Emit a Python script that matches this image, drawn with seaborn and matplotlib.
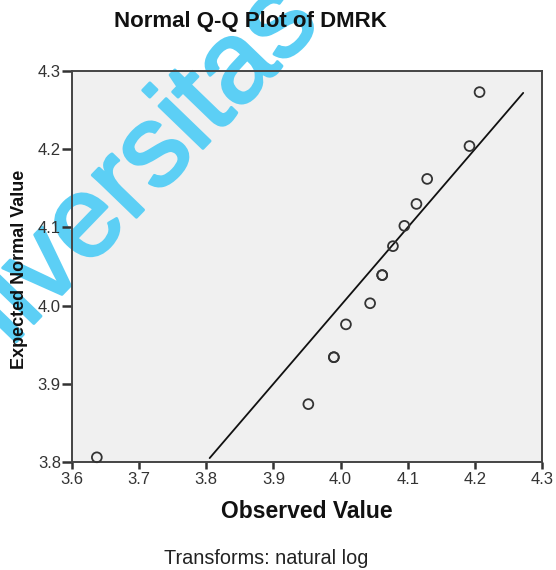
import matplotlib
matplotlib.use("Agg")
import matplotlib.pyplot as plt
import matplotlib.patheffects as pe
import pandas as pd
import seaborn as sns

# Observed (natural log) values and their expected normal quantiles
observed = [3.637, 3.952, 3.990, 3.990, 4.008, 4.044, 4.062, 4.062,
            4.078, 4.095, 4.113, 4.129, 4.192, 4.207]
expected = [3.806, 3.874, 3.934, 3.934, 3.976, 4.003, 4.039, 4.039,
            4.076, 4.102, 4.130, 4.162, 4.204, 4.273]

# Reference line y = x spanning the expected range
ref_line = [3.805, 4.272]

x_ticks = [3.6, 3.7, 3.8, 3.9, 4.0, 4.1, 4.2, 4.3]
y_ticks = [3.8, 3.9, 4.0, 4.1, 4.2, 4.3]

sns.set_theme(style="white")
plt.rcParams["font.family"] = ["Liberation Sans", "DejaVu Sans"]

df = pd.DataFrame({"Observed": observed, "Expected": expected})
line_df = pd.DataFrame({"x": ref_line, "y": ref_line})

W, H = 556, 570
fig = plt.figure(figsize=(W / 100, H / 100), dpi=100)
ax = fig.add_axes([72 / W, 1 - 462 / H, 470 / W, 391 / H])
ax.set_facecolor("#f0f0f0")

sns.lineplot(data=line_df, x="x", y="y", ax=ax, color="#111111",
             linewidth=1.3, zorder=2)
sns.scatterplot(data=df, x="Observed", y="Expected", ax=ax, marker="o",
                s=50, facecolor="none", edgecolor="#333333",
                linewidth=1.3, zorder=3, clip_on=False)

ax.set_xlim(3.6, 4.3)
ax.set_ylim(3.8, 4.3)
ax.set_xticks(x_ticks)
ax.set_yticks(y_ticks)
ax.set_xticklabels([f"{v:.1f}" for v in x_ticks])
ax.set_yticklabels([f"{v:.1f}" for v in y_ticks])

for side in ["left", "right", "top", "bottom"]:
    ax.spines[side].set_visible(True)
    ax.spines[side].set_color("#444444")
    ax.spines[side].set_linewidth(1.4)

ax.tick_params(axis="x", direction="out", length=5, width=1.8,
               color="#333333", labelsize=12, labelcolor="#333333", pad=2)
ax.tick_params(axis="y", direction="out", length=7, width=1.8,
               color="#333333", labelsize=12, labelcolor="#333333", pad=1)
ax.tick_params(bottom=True, left=True)

ax.set_xlabel("Observed Value", fontsize=16.5, fontweight="bold",
              color="#111111")
ax.xaxis.set_label_coords(0.5, -(511 - 462) / 391, transform=ax.transAxes)
ax.xaxis.label.set_va("center")
ax.set_ylabel("Expected Normal Value", fontsize=13, fontweight="bold",
              color="#111111")
ax.yaxis.set_label_coords(-(72 - 20) / 470, (462 - 269) / 391)
ax.yaxis.label.set_va("center")

fig.text(250 / W, 1 - 21 / H, "Normal Q-Q Plot of DMRK", ha="center",
         va="center", fontsize=16, fontweight="bold", color="#111111",
         zorder=5)
fig.text(266 / W, 1 - 558 / H, "Transforms: natural log", ha="center",
         va="center", fontsize=14.3, color="#222222")

# Watermark across the upper left, under the axis texts
wm_color = "#5ccff5"
ax.text(322 / W, 1 - 25 / H, "Universitas", transform=fig.transFigure,
        rotation=46, rotation_mode="anchor", ha="right", va="baseline",
        fontsize=83, color=wm_color, zorder=0.5, clip_on=False,
        path_effects=[pe.withStroke(linewidth=2.2, foreground=wm_color)])

fig.savefig("out.png", dpi=100)
